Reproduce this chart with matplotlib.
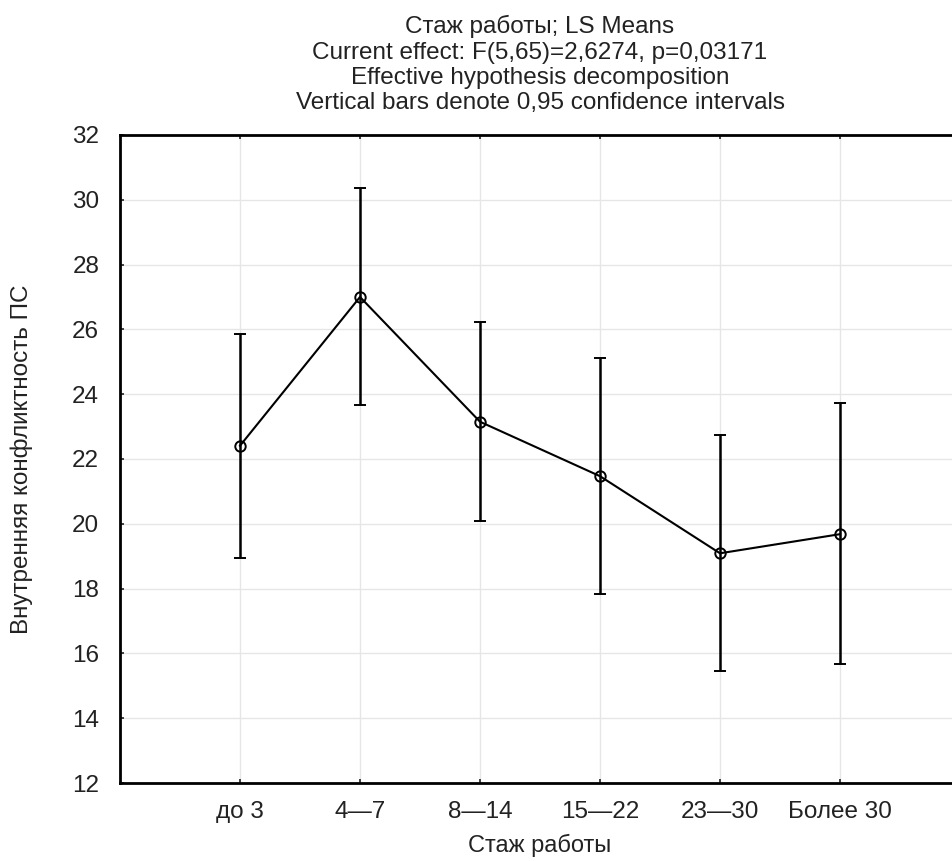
import matplotlib.pyplot as plt
import numpy as np

plt.rcParams['font.family'] = ['Liberation Sans', 'DejaVu Sans']

groups = ['до 3', '4—7', '8—14', '15—22', '23—30', 'Более 30']
means = [22.41, 27.0, 23.15, 21.47, 19.09, 19.68]
ci_low = [18.95, 23.67, 20.08, 17.83, 15.46, 15.68]
ci_high = [25.87, 30.35, 26.22, 25.11, 22.73, 23.72]

x = np.arange(1, len(groups) + 1)
means = np.array(means)
err = [means - np.array(ci_low), np.array(ci_high) - means]

fig = plt.figure(figsize=(9.52, 8.61), dpi=100)
# axes runs a bit past the right edge, like the original crop
ax = fig.add_axes([120 / 952, 1 - 783 / 861, 840 / 952, 648 / 861])

ax.errorbar(x, means, yerr=err, color='black', lw=1.5, elinewidth=1.8,
            capsize=4, capthick=1.6, marker='o', ms=7.5, mfc='none',
            mec='black', mew=1.4)

ax.set_xlim(0, 7)
ax.set_ylim(12, 32)
ax.set_yticks(np.arange(12, 33, 2))
ax.set_xticks(x)
ax.set_xticklabels(groups)
ax.grid(True, color='#e6e6e6', lw=1)
ax.set_axisbelow(True)
ax.tick_params(direction='in', length=3, width=1.2, top=True, right=False,
               labelsize=17.5, colors='#222222')
ax.tick_params(axis='y', pad=15)
ax.tick_params(axis='x', pad=13)
for s in ['left', 'bottom', 'top']:
    ax.spines[s].set_linewidth(2)
ax.spines['right'].set_visible(False)

ax.set_xlabel('Стаж работы', fontsize=17, labelpad=8, color='#222222')
ax.set_ylabel('Внутренняя конфликтность ПС', fontsize=17.5, labelpad=28,
              color='#222222')
ax.set_title('Стаж работы; LS Means\n'
             'Current effect: F(5,65)=2,6274, p=0,03171\n'
             'Effective hypothesis decomposition\n'
             'Vertical bars denote 0,95 confidence intervals',
             fontsize=17.5, linespacing=1.2, pad=18.5, color='#222222')

plt.savefig('out.png', dpi=100)
